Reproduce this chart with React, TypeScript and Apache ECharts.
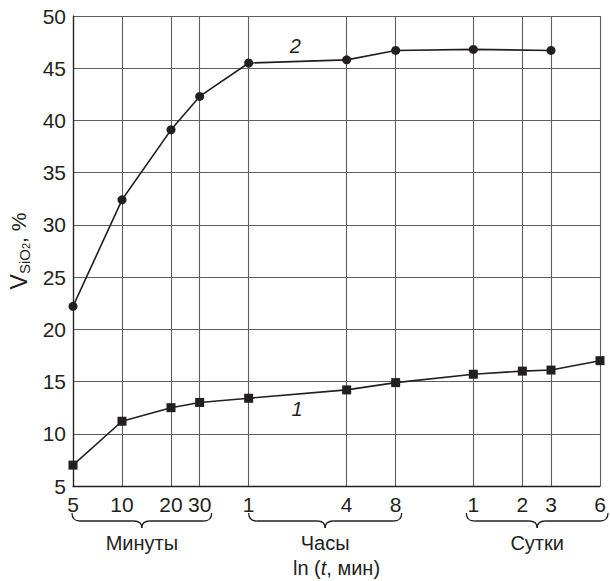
import React, { useEffect, useRef } from 'react';
import * as echarts from 'echarts';

// X ticks: time in minutes (axis is ln of minutes)
const tickMinutes = [5, 10, 20, 30, 60, 240, 480, 1440, 2880, 4320, 8640];
const tickLabels = ['5', '10', '20', '30', '1', '4', '8', '1', '2', '3', '6'];

// Curve 1 (squares)
const series1Minutes = [5, 10, 20, 30, 60, 240, 480, 1440, 2880, 4320, 8640];
const series1Values = [7.0, 11.2, 12.5, 13.0, 13.4, 14.2, 14.9, 15.7, 16.0, 16.1, 17.0];

// Curve 2 (circles)
const series2Minutes = [5, 10, 20, 30, 60, 240, 480, 1440, 4320];
const series2Values = [22.2, 32.4, 39.1, 42.3, 45.5, 45.8, 46.7, 46.8, 46.7];

// Y axis
const yMin = 5;
const yMax = 50;
const yInterval = 5;

// Groups under the x axis
const groupNames = ['Минуты', 'Часы', 'Сутки'];
const groupFromMinutes = [5, 60, 1440];
const groupToMinutes = [30, 480, 8640];

// Curve number labels
const curveLabelTexts = ['1', '2'];
const curveLabelMinutes = [119, 116];
const curveLabelValues = [12.4, 47.1];

const FONT = '"Liberation Sans", Arial, Helvetica, sans-serif';
const INK = '#231f20';
const GRID = '#5e5e5e';

export default function App() {
  const ref = useRef<HTMLDivElement>(null);

  useEffect(() => {
    document.body.style.margin = '0';
    const chart = echarts.init(ref.current as HTMLDivElement, null, { renderer: 'svg' });
    const lnTicks = tickMinutes.map((m) => Math.log(m));

    const option: any = {
      animation: false,
      backgroundColor: '#ffffff',
      textStyle: { fontFamily: FONT },
      grid: { left: 73, right: 10, top: 16, bottom: 95, containLabel: false, outerBoundsMode: 'none' },
      xAxis: {
        type: 'value',
        min: Math.log(tickMinutes[0]),
        max: Math.log(tickMinutes[tickMinutes.length - 1]),
        axisLine: { show: true, onZero: false, lineStyle: { color: INK, width: 1.3 } },
        axisTick: { show: false, customValues: lnTicks },
        axisLabel: {
          customValues: lnTicks,
          showMinLabel: true,
          showMaxLabel: true,
          margin: 8,
          fontSize: 21,
          color: INK,
          fontFamily: FONT,
          formatter: (val: number) => {
            const i = lnTicks.findIndex((t) => Math.abs(t - val) < 1e-6);
            return i >= 0 ? tickLabels[i] : '';
          },
        },
        splitLine: { show: true, lineStyle: { color: GRID, width: 1.1 } },
        name: '{a|ln (}{i|t}{a|, мин)}',
        nameLocation: 'middle',
        nameGap: 72,
        nameTextStyle: {
          rich: {
            a: { fontSize: 20, color: INK, fontFamily: FONT, lineHeight: 20 },
            i: { fontSize: 20, color: INK, fontFamily: FONT, fontStyle: 'italic', lineHeight: 20 },
          },
        },
      },
      yAxis: {
        type: 'value',
        min: yMin,
        max: yMax,
        interval: yInterval,
        axisLine: { show: true, lineStyle: { color: INK, width: 1.3 } },
        axisTick: { show: false },
        axisLabel: { fontSize: 21, color: INK, margin: 7, fontFamily: FONT },
        splitLine: { show: true, lineStyle: { color: GRID, width: 1.1 } },
        name: '{v|V}{s|SiO}{t|2}{c|, %}',
        nameLocation: 'middle',
        nameRotate: 90,
        nameGap: 40,
        nameTextStyle: {
          rich: {
            v: { fontSize: 23, color: INK, fontFamily: FONT, lineHeight: 26, verticalAlign: 'middle' },
            s: { fontSize: 15, color: INK, fontFamily: FONT, lineHeight: 14, verticalAlign: 'bottom' },
            t: { fontSize: 11, color: INK, fontFamily: FONT, lineHeight: 9, verticalAlign: 'bottom' },
            c: { fontSize: 21, color: INK, fontFamily: FONT, lineHeight: 26, verticalAlign: 'middle' },
          },
        },
      },
      series: [
        {
          type: 'line',
          data: series1Minutes.map((m, i) => [Math.log(m), series1Values[i]]),
          symbol: 'rect',
          symbolSize: 9,
          itemStyle: { color: INK },
          lineStyle: { color: INK, width: 1.6 },
          z: 5,
        },
        {
          type: 'line',
          data: series2Minutes.map((m, i) => [Math.log(m), series2Values[i]]),
          symbol: 'circle',
          symbolSize: 9,
          itemStyle: { color: INK },
          lineStyle: { color: INK, width: 1.6 },
          z: 5,
        },
      ],
    };
    chart.setOption(option);

    const px = (m: number, v: number) =>
      chart.convertToPixel({ gridIndex: 0 }, [Math.log(m), v]) as number[];

    const bottomY = px(tickMinutes[0], yMin)[1];
    const braceTop = bottomY + 27;
    const braceMid = bottomY + 35;
    const braceTip = bottomY + 42;
    const r = 8;
    const padL = [-1, 0, -7];
    const padR = [12, 6, 8];
    const lineStyle = { stroke: INK, lineWidth: 1.3, fill: null };

    const graphics: any[] = [];
    groupNames.forEach((name, gi) => {
      const a = px(groupFromMinutes[gi], yMin)[0] + padL[gi];
      const b = px(groupToMinutes[gi], yMin)[0] + padR[gi];
      const m = (a + b) / 2;
      graphics.push(
        { type: 'bezierCurve', shape: { x1: a, y1: braceTop, cpx1: a, cpy1: braceMid, x2: a + r, y2: braceMid }, style: lineStyle },
        { type: 'line', shape: { x1: a + r, y1: braceMid, x2: m - r, y2: braceMid }, style: lineStyle },
        { type: 'bezierCurve', shape: { x1: m - r, y1: braceMid, cpx1: m, cpy1: braceMid, x2: m, y2: braceTip }, style: lineStyle },
        { type: 'bezierCurve', shape: { x1: m, y1: braceTip, cpx1: m, cpy1: braceMid, x2: m + r, y2: braceMid }, style: lineStyle },
        { type: 'line', shape: { x1: m + r, y1: braceMid, x2: b - r, y2: braceMid }, style: lineStyle },
        { type: 'bezierCurve', shape: { x1: b - r, y1: braceMid, cpx1: b, cpy1: braceMid, x2: b, y2: braceTop }, style: lineStyle },
        {
          type: 'text',
          x: m,
          y: bottomY + 57,
          style: { text: name, fill: INK, font: `20px ${FONT}`, textAlign: 'center', textVerticalAlign: 'middle' },
        }
      );
    });

    curveLabelTexts.forEach((t, i) => {
      const p = px(curveLabelMinutes[i], curveLabelValues[i]);
      graphics.push({
        type: 'text',
        x: p[0],
        y: p[1],
        z: 10,
        style: { text: t, fill: INK, font: `italic 20px ${FONT}`, textAlign: 'center', textVerticalAlign: 'middle' },
      });
    });

    chart.setOption({ graphic: graphics });

    return () => chart.dispose();
  }, []);

  return <div ref={ref} style={{ width: 610, height: 581 }} />;
}
